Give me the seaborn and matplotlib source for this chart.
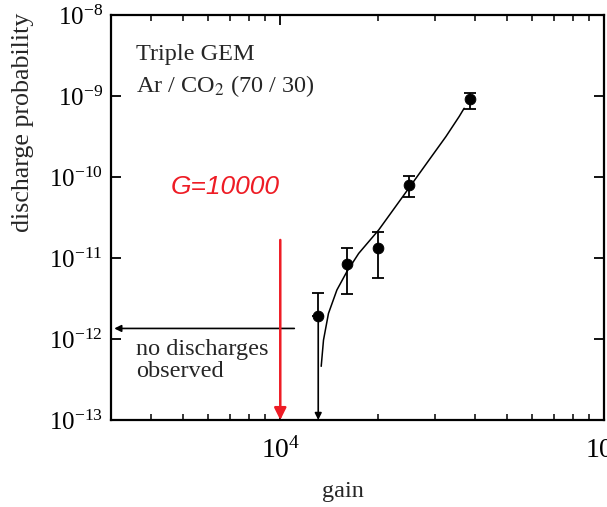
import numpy as np
import pandas as pd
import seaborn as sns
import matplotlib.pyplot as plt
from matplotlib.ticker import FixedLocator, NullLocator, NullFormatter, LogLocator

# --- DATA ---
gain = [13100, 16100, 20000, 25000, 38500]
prob = [1.9e-12, 8.4e-12, 1.34e-11, 8.0e-11, 9.1e-10]
err_hi = [3.7e-12, 1.32e-11, 2.1e-11, 1.03e-10, 1.08e-9]
err_lo = [1.9e-12, 3.6e-12, 5.6e-12, 5.7e-11, 7.0e-10]

fit_gain = [13380, 13600, 14090, 14960, 16060, 17470, 20140, 24970,
            28810, 32480, 35720, 36980]
fit_prob = [4.6e-13, 9.7e-13, 2.07e-12, 4.03e-12, 6.78e-12, 1.14e-11,
            2.22e-11, 7.3e-11, 1.62e-10, 3.15e-10, 5.6e-10, 7.05e-10]

limit_prob = 1.35e-12          # "no discharges observed" level
limit_gain = [11050, 3070]     # arrow from right to left
g_marker = 10000               # red G=10000 marker
g_marker_top = 1.67e-11

x_ticks = [1e4, 1e5]
y_ticks = [1e-13, 1e-12, 1e-11, 1e-10, 1e-9, 1e-8]

df = pd.DataFrame({"gain": gain, "prob": prob})
fit = pd.DataFrame({"gain": fit_gain, "prob": fit_prob})

# --- STYLE ---
sns.set_style("ticks")
plt.rcParams['font.family'] = ['Liberation Serif', 'DejaVu Serif']
plt.rcParams['mathtext.fontset'] = 'stix'
plt.rcParams['axes.unicode_minus'] = False

fig = plt.figure(figsize=(6.07, 5.07), dpi=100)
ax = fig.add_axes([0.1829, 0.1716, 0.8121, 0.7988])

# fit curve
sns.lineplot(data=fit, x="gain", y="prob", ax=ax, color="black",
             linewidth=1.1, sort=False)

# data points with error bars
yerr = np.array([np.array(prob) - np.array(err_lo), np.array(err_hi) - np.array(prob)])
yerr[0, 0] = 0
ax.errorbar(gain, prob, yerr=yerr, fmt="none", ecolor="black",
            elinewidth=1.3, capsize=4.5, capthick=1.3)
sns.scatterplot(data=df, x="gain", y="prob", ax=ax, color="black",
                s=60, edgecolor="black", zorder=5)

ax.set_xscale("log")
ax.set_yscale("log")
ax.set_xlim(3000, 1e5)
ax.set_ylim(1e-13, 1e-8)

# upper-limit arrow on the first point
ax.annotate("", xy=(gain[0], 1e-13), xytext=(gain[0], prob[0]),
            arrowprops=dict(arrowstyle="-|>", color="black", lw=1.2,
                            mutation_scale=10, shrinkA=0, shrinkB=0))

# "no discharges observed" arrow
ax.annotate("", xy=(limit_gain[1], limit_prob), xytext=(limit_gain[0], limit_prob),
            arrowprops=dict(arrowstyle="-|>", color="black", lw=1.2,
                            mutation_scale=10, shrinkA=0, shrinkB=0))

# red G=10000 arrow
ax.annotate("", xy=(g_marker, 1e-13), xytext=(g_marker, g_marker_top),
            arrowprops=dict(arrowstyle="-|>", color="#ee1c25", lw=1.8,
                            mutation_scale=18, shrinkA=0, shrinkB=0))
ax.text(0.232, 0.575, "G=10000", transform=ax.transAxes, color="#ee1c25",
        fontsize=19, fontstyle="italic", family=["Liberation Sans", "DejaVu Sans"],
        ha="center", va="center")

ax.text(0.05, 0.89, "Triple GEM", transform=ax.transAxes, fontsize=17.5,
        ha="left", va="baseline")
ax.text(0.05, 0.81, r"Ar / CO$_2$ (70 / 30)", transform=ax.transAxes, fontsize=17.5,
        ha="left", va="baseline")
ax.text(0.05, 0.16, "no discharges", transform=ax.transAxes, fontsize=17.5,
        ha="left", va="baseline")
ax.text(0.05, 0.106, "observed", transform=ax.transAxes, fontsize=17.5,
        ha="left", va="baseline")

# axes labels
ax.set_xlabel("gain", fontsize=17.5)
ax.set_ylabel("discharge probability", fontsize=18.7)
ax.xaxis.set_label_coords(0.47, -0.15)
ax.yaxis.set_label_coords(-0.156, 0.735)

# ticks
ax.xaxis.set_major_locator(FixedLocator(x_ticks))
ax.xaxis.set_minor_locator(LogLocator(base=10, subs=np.arange(2, 10)))
ax.xaxis.set_minor_formatter(NullFormatter())
ax.yaxis.set_major_locator(FixedLocator(y_ticks))
ax.yaxis.set_minor_locator(NullLocator())
ax.tick_params(axis="both", which="both", direction="in", top=True, right=True,
               colors="black")
ax.tick_params(axis="both", which="major", length=7, width=1.3, labelsize=18)
ax.tick_params(axis="x", which="major", pad=12, labelsize=20)
ax.tick_params(axis="y", which="major", pad=6)
ax.tick_params(axis="x", which="minor", length=4, width=1.1)

for s in ax.spines.values():
    s.set_linewidth(1.6)
    s.set_color("black")

fig.savefig("out.png", dpi=100)
